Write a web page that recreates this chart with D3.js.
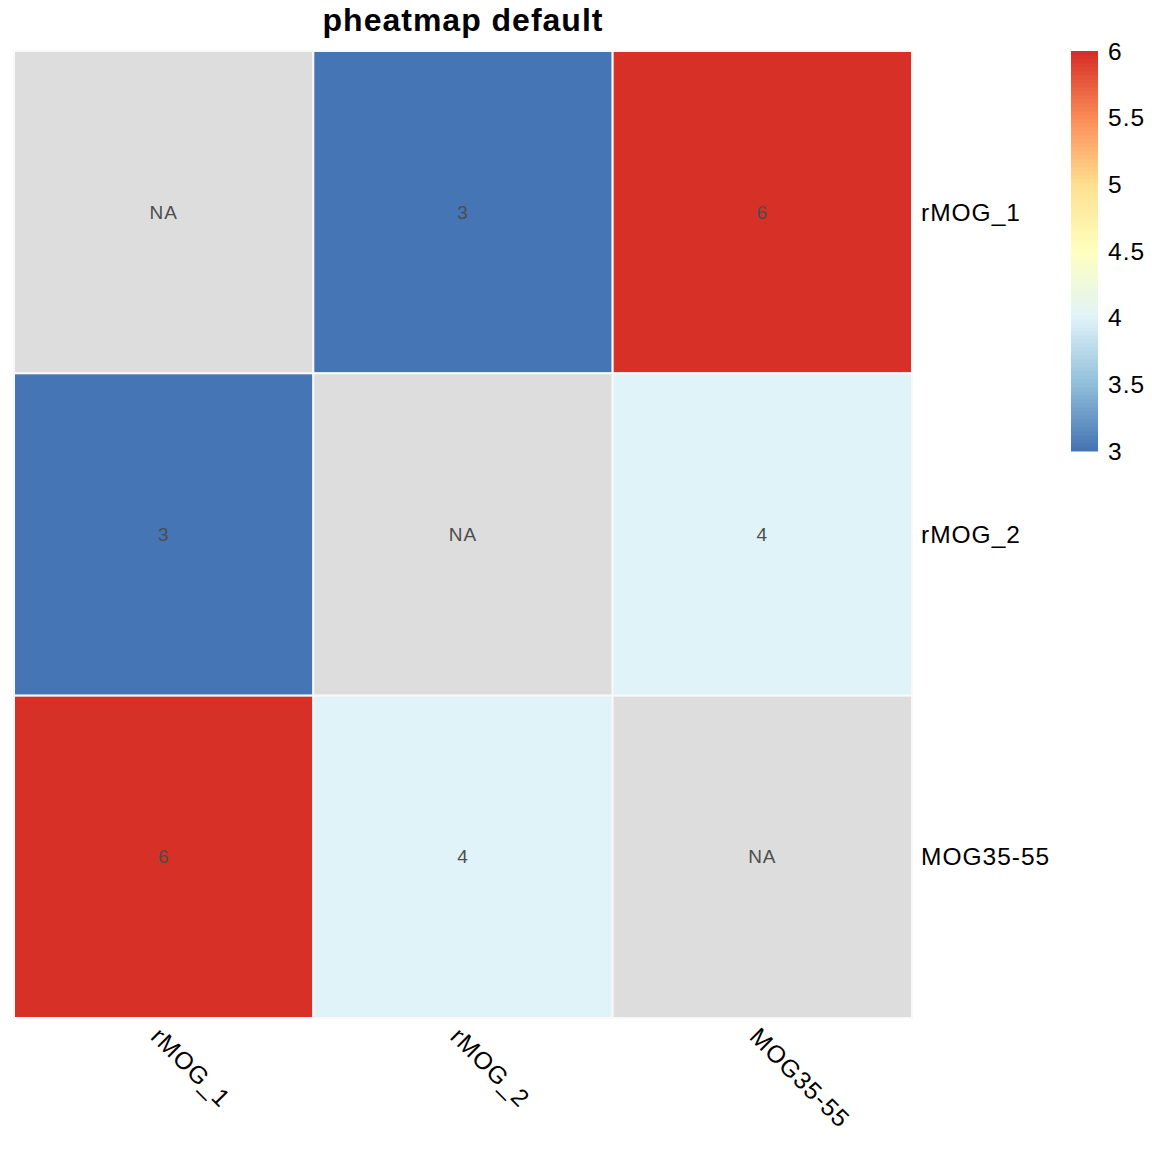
<!DOCTYPE html>
<html>
<head>
<meta charset="utf-8">
<script src="https://cdn.jsdelivr.net/npm/d3@7"></script>
<style>
  body { margin: 0; background: white; }
  text { font-family: "Liberation Sans", Arial, sans-serif; }
</style>
</head>
<body>
<div id="chart"></div>
<script>
const rowNames = ["rMOG_1", "rMOG_2", "MOG35-55"];
const colNames = ["rMOG_1", "rMOG_2", "MOG35-55"];
const row1 = [null, 3, 6];
const row2 = [3, null, 4];
const row3 = [6, 4, null];
const legendTicks = [3, 3.5, 4, 4.5, 5, 5.5, 6];
const paletteStops = ["#4575B4", "#91BFDB", "#E0F3F8", "#FFFFBF", "#FEE090", "#FC8D59", "#D73027"];
const naColor = "#DDDDDD";
const titleText = "pheatmap default";

const width = 1152, height = 1152;
const gridLeft = 14, gridTop = 51, gridRight = 912, gridBottom = 1018;

const svg = d3.select("#chart").append("svg")
    .attr("width", width)
    .attr("height", height);

const matrix = [row1, row2, row3];
const cells = [];
matrix.forEach((r, i) => r.forEach((v, j) => cells.push({ row: rowNames[i], col: colNames[j], value: v })));

const x = d3.scaleBand().domain(colNames).range([gridLeft, gridRight]);
const y = d3.scaleBand().domain(rowNames).range([gridTop, gridBottom]);

// 100-step ramp like colorRampPalette(rev(brewer.pal(7, "RdYlBu")))(100)
const ramp = d3.scaleLinear()
    .domain(d3.range(paletteStops.length).map(i => i / (paletteStops.length - 1)))
    .range(paletteStops)
    .interpolate(d3.interpolateRgb);
const colors = d3.range(100).map(i => ramp(i / 99));
const color = d3.scaleQuantize().domain([3, 6]).range(colors);

svg.selectAll("rect.cell")
    .data(cells)
    .enter()
    .append("rect")
    .attr("class", "cell")
    .attr("x", d => x(d.col))
    .attr("y", d => y(d.row))
    .attr("width", x.bandwidth())
    .attr("height", y.bandwidth())
    .attr("fill", d => d.value == null ? naColor : color(d.value))
    .attr("stroke", "#f8f8f8")
    .attr("stroke-width", 2);

svg.selectAll("text.num")
    .data(cells)
    .enter()
    .append("text")
    .attr("class", "num")
    .attr("x", d => x(d.col) + x.bandwidth() / 2)
    .attr("y", d => y(d.row) + y.bandwidth() / 2)
    .attr("dy", "0.35em")
    .attr("text-anchor", "middle")
    .attr("fill", "#4D4D4D")
    .style("font-size", "19px")
    .style("letter-spacing", "1px")
    .text(d => d.value == null ? "NA" : d.value);

// row labels
svg.selectAll("text.rowlab")
    .data(rowNames)
    .enter()
    .append("text")
    .attr("class", "rowlab")
    .attr("x", gridRight + 9)
    .attr("y", d => y(d) + y.bandwidth() / 2)
    .attr("dy", "0.35em")
    .attr("fill", "black")
    .style("font-size", "24.5px")
    .style("letter-spacing", "1px")
    .text(d => d);

// column labels, rotated 45deg
svg.selectAll("text.collab")
    .data(colNames)
    .enter()
    .append("text")
    .attr("class", "collab")
    .attr("transform", d => `translate(${x(d) + x.bandwidth() / 2 - 8},${gridBottom + 14}) rotate(45)`)
    .attr("dy", "0.35em")
    .attr("fill", "black")
    .style("font-size", "24.5px")
    .style("letter-spacing", "1px")
    .text(d => d);

// title
svg.append("text")
    .attr("x", (gridLeft + gridRight) / 2)
    .attr("y", 31)
    .attr("text-anchor", "middle")
    .attr("fill", "black")
    .style("font-size", "32px")
    .style("font-weight", "bold")
    .style("letter-spacing", "1px")
    .text(titleText);

// legend
const legendX = 1071, legendW = 27, legendTop = 51, legendBottom = 451;
const ly = d3.scaleLinear().domain([3, 6]).range([legendBottom, legendTop]);
const stepH = (legendBottom - legendTop) / colors.length;
svg.selectAll("rect.leg")
    .data(colors)
    .enter()
    .append("rect")
    .attr("class", "leg")
    .attr("x", legendX)
    .attr("y", (d, i) => legendBottom - (i + 1) * stepH)
    .attr("width", legendW)
    .attr("height", stepH + 0.5)
    .attr("fill", d => d);

svg.selectAll("text.legtick")
    .data(legendTicks)
    .enter()
    .append("text")
    .attr("class", "legtick")
    .attr("x", legendX + legendW + 10)
    .attr("y", d => ly(d))
    .attr("dy", "0.35em")
    .attr("fill", "black")
    .style("font-size", "24.5px")
    .style("letter-spacing", "1px")
    .text(d => d);
</script>
</body>
</html>
